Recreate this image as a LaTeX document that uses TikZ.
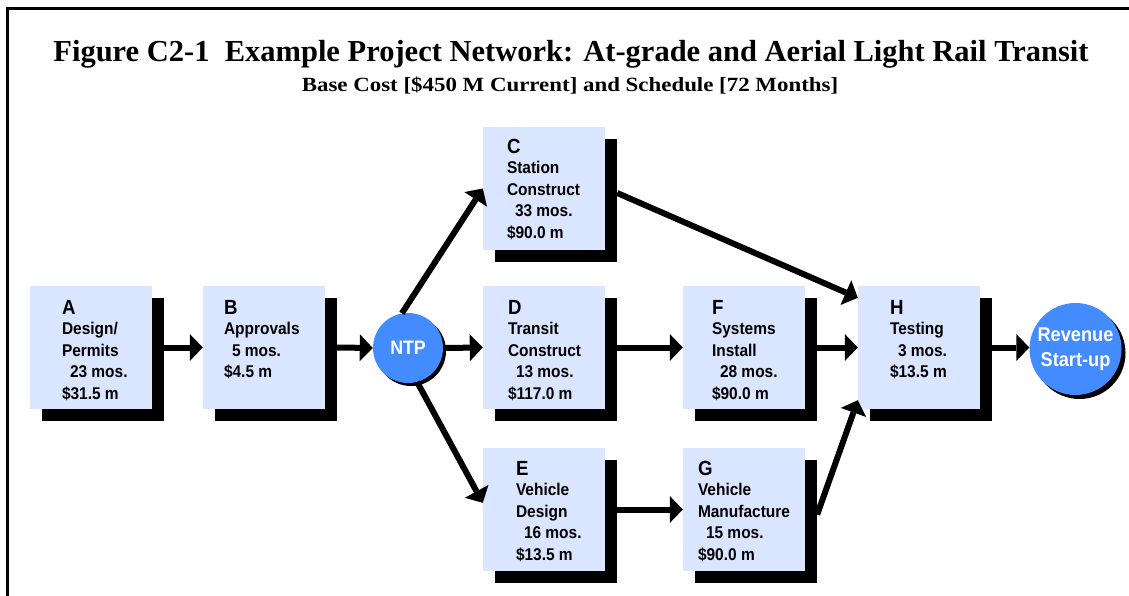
\documentclass[tikz,border=0pt]{standalone}
\usepackage{fontspec}
\setmainfont{Liberation Serif}
\setsansfont{Liberation Sans}
\newfontfamily\boxfont{Liberation Sans}[FakeStretch=0.91]
\usetikzlibrary{arrows.meta,calc,shadows}
\definecolor{boxblue}{RGB}{218,230,255}
\definecolor{circblue}{RGB}{66,140,255}
\newcommand\bxt[2]{\vtop{\fontsize{17}{21.5}\selectfont\hbox{\fontsize{20.5}{20.5}\selectfont #1}\vskip-1.5pt #2}}
\newcommand\bl[1]{\hbox{#1}}
\newcommand\ind{\hspace*{8pt}}
\tikzset{
  taskbox/.style={rectangle, fill=boxblue, minimum width=122pt, minimum height=123pt, inner sep=0pt,
    drop shadow={shadow xshift=12pt, shadow yshift=-12pt, fill=black, opacity=1}},
  btext/.style={anchor=base west, inner sep=0pt, font=\boxfont\bfseries},
  milestone/.style={circle, fill=circblue, inner sep=0pt, text=white, align=center,
    drop shadow={shadow xshift=3pt, shadow yshift=-3pt, fill=black, opacity=1}},
  arr/.style={line width=6pt, -{Triangle[length=13pt,width=27pt,line width=0pt]}},
}
\begin{document}
\begin{tikzpicture}[x=1pt,y=-1pt]
\useasboundingbox (0,0) rectangle (1129,596);
\draw[line width=3.5pt] (7.7,600) -- (7.7,8.7) -- (1135,8.7);

\node[font=\fontsize{30.5}{36}\selectfont\bfseries, anchor=base, inner sep=0pt] (title) at (571,61.5)
  {Figure C2-1\ \ Example Project Network: At-grade and Aerial Light Rail Transit};
\node[font=\fontsize{22.9}{26}\selectfont\bfseries, anchor=base, inner sep=0pt] (sub) at (570,91.5)
  {\scalebox{1}[0.88]{Base Cost [\$450 M Current] and Schedule [72 Months]}};

% boxes
\node[taskbox] (A) at (91,347.5) {};
\node[taskbox] (B) at (264,347.5) {};
\node[taskbox] (C) at (544,188.5) {};
\node[taskbox] (D) at (544,347.5) {};
\node[taskbox] (E) at (544,509.5) {};
\node[taskbox] (F) at (744,347.5) {};
\node[taskbox] (G) at (744,509.5) {};
\node[taskbox] (H) at (919,347.5) {};

\node[btext] (At) at ($(A.north west)+(32,29)$) {\bxt{A}{\bl{Design/}\bl{Permits}\bl{\ind 23 mos.}\bl{\$31.5 m}}};
\node[btext] (Bt) at ($(B.north west)+(21,29)$) {\bxt{B}{\bl{Approvals}\bl{\ind 5 mos.}\bl{\$4.5 m}}};
\node[btext] (Ct) at ($(C.north west)+(24,27)$) {\bxt{C}{\bl{Station}\bl{Construct}\bl{\ind 33 mos.}\bl{\$90.0 m}}};
\node[btext] (Dt) at ($(D.north west)+(25,29)$) {\bxt{D}{\bl{Transit}\bl{Construct}\bl{\ind 13 mos.}\bl{\$117.0 m}}};
\node[btext] (Et) at ($(E.north west)+(33,28)$) {\bxt{E}{\bl{Vehicle}\bl{Design}\bl{\ind 16 mos.}\bl{\$13.5 m}}};
\node[btext] (Ft) at ($(F.north west)+(29,29)$) {\bxt{F}{\bl{Systems}\bl{Install}\bl{\ind 28 mos.}\bl{\$90.0 m}}};
\node[btext] (Gt) at ($(G.north west)+(15,28)$) {\bxt{G}{\bl{Vehicle}\bl{Manufacture}\bl{\ind 15 mos.}\bl{\$90.0 m}}};
\node[btext] (Ht) at ($(H.north west)+(32,29)$) {\bxt{H}{\bl{Testing}\bl{\ind 3 mos.}\bl{\$13.5 m}}};

% milestones
\path (408,348) coordinate (ntpc) (1075.5,349) coordinate (revc);
\node[milestone, minimum size=70pt, font=\boxfont\bfseries\fontsize{19.5}{22}\selectfont] (NTP) at (ntpc) {NTP};
\node[milestone, minimum size=92pt, font=\boxfont\bfseries\fontsize{20}{25.5}\selectfont,
  drop shadow={shadow xshift=4pt, shadow yshift=-4pt, fill=black, opacity=1}] (Rev) at (revc) {Revenue\\Start-up};

% connectors
\draw[arr] ($(A.east)+(12,0)$) -- (B.west);
\draw[arr] ($(B.east)+(12,0)$) -- (NTP.west);
\draw[arr] (NTP.east) -- (D.west);
\draw[arr] (NTP.100) -- (C.west);
\draw[arr] (NTP.-75) -- ($(E.north west)+(0,55)$);
\draw[arr] ($(C.east)+(12,4.5)$) -- ($(H.north west)+(0,12)$);
\draw[arr] ($(D.east)+(12,0)$) -- (F.west);
\draw[arr] ($(F.east)+(12,0)$) -- (H.west);
\draw[arr] ($(E.east)+(12,0)$) -- (G.west);
\draw[arr] ($(G.east)+(12,5)$) -- ($(H.south west)+(0,-9)$);
\draw[arr] ($(H.east)+(12,0)$) -- (Rev.west |- H.east);
\end{tikzpicture}
\end{document}
